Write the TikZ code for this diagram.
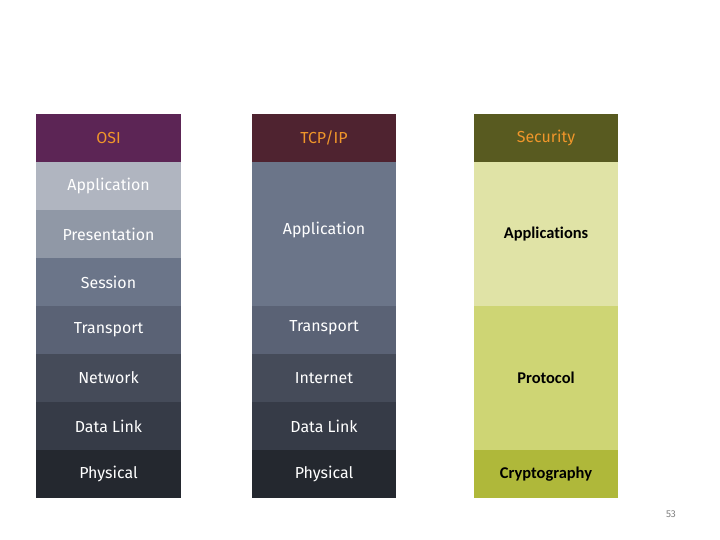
\documentclass[tikz,border=0pt]{standalone}
\usepackage{fontspec}
\setmainfont{Fira Sans}
\newfontfamily\carl[Ligatures=NoCommon]{Carlito}
\definecolor{osihead}{HTML}{5C2555}
\definecolor{tcphead}{HTML}{4F2330}
\definecolor{sechead}{HTML}{585A20}
\definecolor{orangetxt}{HTML}{F0962A}
\definecolor{cA}{HTML}{B0B5C0}
\definecolor{cP}{HTML}{9098A6}
\definecolor{cS}{HTML}{6B7589}
\definecolor{cT}{HTML}{5A6275}
\definecolor{cN}{HTML}{454B59}
\definecolor{cD}{HTML}{363B47}
\definecolor{cPh}{HTML}{24282F}
\definecolor{sA}{HTML}{E0E3A6}
\definecolor{sP}{HTML}{CED574}
\definecolor{sC}{HTML}{AFB83A}
\begin{document}
\begin{tikzpicture}[x=1bp,y=-1bp,
  cell/.style={draw=none,inner sep=0pt,outer sep=0pt,font=\fontsize{16}{18}\selectfont},
  wtxt/.style={text=white},
  htxt/.style={text=orangetxt},
  stxt/.style={text=black,font=\carl\bfseries\fontsize{16.5}{18}\selectfont}]
\useasboundingbox (0,0) rectangle (720,540);
\fill[white] (0,0) rectangle (720,540);
% OSI column
\fill[osihead] (36,114) rectangle (181,162);
\fill[cA] (36,162) rectangle (181,210);
\fill[cP] (36,210) rectangle (181,258);
\fill[cS] (36,258) rectangle (181,306);
\fill[cT] (36,306) rectangle (181,354);
\fill[cN] (36,354) rectangle (181,402);
\fill[cD] (36,402) rectangle (181,450);
\fill[cPh] (36,450) rectangle (181,498);
\node[cell,htxt] (osi) at (108.5,138) {OSI};
\node[cell,wtxt] (oapp) at (108.5,186) {Application};
\node[cell,wtxt] (opres) at (108.5,234) {Presentation};
\node[cell,wtxt] (oses) at (108.5,282) {Session};
\node[cell,wtxt] (otr) at (108.5,330) {Transport};
\node[cell,wtxt] (onet) at (108.5,378) {Network};
\node[cell,wtxt] (odl) at (108.5,426) {Data Link};
\node[cell,wtxt] (oph) at (108.5,474) {Physical};
% TCP/IP column
\fill[tcphead] (252,114) rectangle (396,162);
\fill[cS] (252,162) rectangle (396,306);
\fill[cT] (252,306) rectangle (396,354);
\fill[cN] (252,354) rectangle (396,402);
\fill[cD] (252,402) rectangle (396,450);
\fill[cPh] (252,450) rectangle (396,498);
\node[cell,htxt] (tcp) at (324,138) {TCP/IP};
\node[cell,wtxt] (tapp) at (324,230) {Application};
\node[cell,wtxt] (ttr) at (324,328) {Transport};
\node[cell,wtxt] (tint) at (324,378) {Internet};
\node[cell,wtxt] (tdl) at (324,426) {Data Link};
\node[cell,wtxt] (tph) at (324,474) {Physical};
% Security column
\fill[sechead] (474,114) rectangle (618,162);
\fill[sA] (474,162) rectangle (618,306);
\fill[sP] (474,306) rectangle (618,450);
\fill[sC] (474,450) rectangle (618,498);
\node[cell,htxt] (sec) at (546,138) {Security};
\node[cell,stxt] (sapp) at (546,234) {Applications};
\node[cell,stxt] (sprot) at (546,378) {Protocol};
\node[cell,stxt] (scry) at (546,474) {Cryptography};
% page number
\node[cell,text=gray,font=\fontsize{10}{11}\selectfont] (pg) at (671,514) {53};
\end{tikzpicture}
\end{document}
